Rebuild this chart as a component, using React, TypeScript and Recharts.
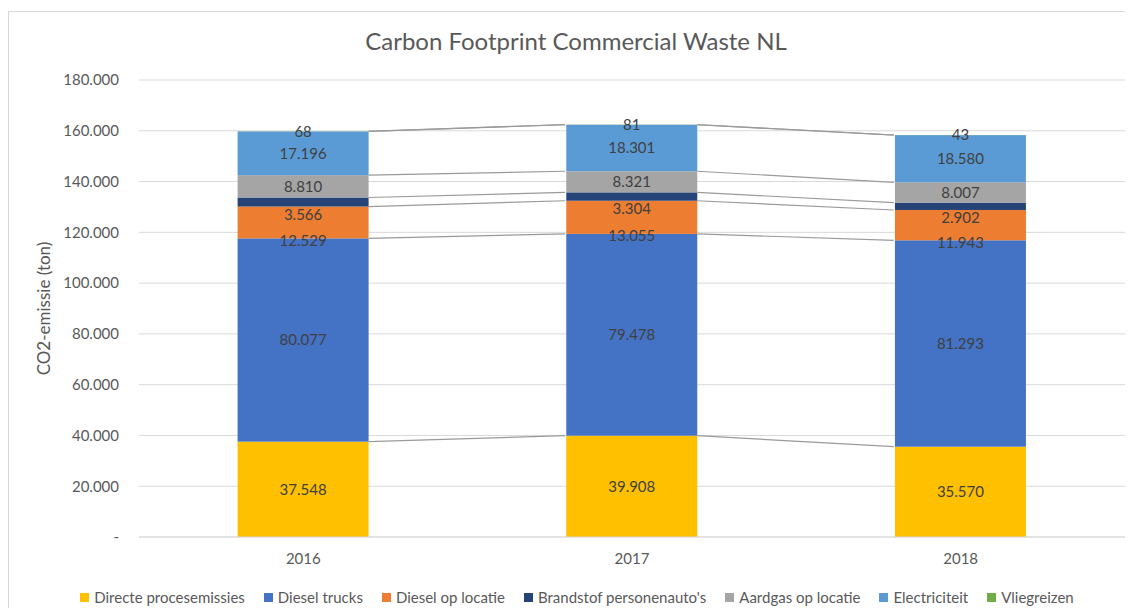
import React from 'react';
import { ComposedChart, Bar, XAxis, YAxis, CartesianGrid, LabelList, Legend } from 'recharts';

const years = ['2016', '2017', '2018'];
const directeProcesemissies = [37548, 39908, 35570];
const dieselTrucks = [80077, 79478, 81293];
const dieselOpLocatie = [12529, 13055, 11943];
const brandstofPersonenautos = [3566, 3304, 2902];
const aardgasOpLocatie = [8810, 8321, 8007];
const electriciteit = [17196, 18301, 18580];
const vliegreizen = [68, 81, 43];
const yTicks = [0, 20000, 40000, 60000, 80000, 100000, 120000, 140000, 160000, 180000];
const Y_MAX = 180000;

const seriesNames = [
  'Directe procesemissies',
  'Diesel trucks',
  'Diesel op locatie',
  "Brandstof personenauto's",
  'Aardgas op locatie',
  'Electriciteit',
  'Vliegreizen',
];
const seriesValues = [
  directeProcesemissies,
  dieselTrucks,
  dieselOpLocatie,
  brandstofPersonenautos,
  aardgasOpLocatie,
  electriciteit,
  vliegreizen,
];
const seriesKeys = ['directe', 'trucks', 'dieselLoc', 'brandstof', 'aardgas', 'elec', 'vlieg'];
const COLORS = ['#FFC000', '#4472C4', '#ED7D31', '#264478', '#A5A5A5', '#5B9BD5', '#70AD47'];
// where Excel put the labels: middle of the segment, on its base, or a bit under it
const LABEL_POS = ['mid', 'mid', 'base', 'under', 'mid', 'mid', 'mid'];
const GAP = 0.3;

const FONT = 'Lato, "Open Sans", sans-serif';
const TEXT = '#595959';
const LABEL_TEXT = '#404040';

const formatNumber = (v: number) => {
  if (v === 0) return '-';
  return String(Math.round(v)).replace(/\B(?=(\d{3})+(?!\d))/g, '.');
};

const chartData = years.map((year, i) => {
  const row: { [key: string]: string | number } = { year };
  let running = 0;
  seriesKeys.forEach((key, s) => {
    row[key] = seriesValues[s][i];
    running += seriesValues[s][i];
    row[`${key}Top`] = running;
  });
  return row;
});

// bar segment plus the Excel "series line" from its top right corner to the next bar
const makeShape = (s: number) => (props: any) => {
  const { x, y, width, height, fill, index, background } = props;
  const key = seriesKeys[s];
  const rect = <rect x={x} y={y} width={width} height={height} fill={fill} />;
  const next = chartData[index + 1];
  if (!next) return rect;
  let perUnit: number;
  let base: number;
  if (background && background.height) {
    perUnit = background.height / Y_MAX;
    base = background.y + background.height;
  } else {
    const top = Number(chartData[index][`${key}Top`]);
    perUnit = height / seriesValues[s][index];
    base = y + top * perUnit;
  }
  const nextTop = base - Number(next[`${key}Top`]) * perUnit;
  const band = width / (1 - 2 * GAP);
  return (
    <g>
      {rect}
      <line x1={x + width} y1={y} x2={x + band} y2={nextTop} stroke="#9a9a9a" strokeWidth={1.2} />
    </g>
  );
};

const makeLabel = (pos: string) => (props: any) => {
  const { x, y, width, height, value } = props;
  let cy = y + height / 2;
  if (pos === 'base') cy = y + height + 2;
  if (pos === 'under') cy = y + height + 8;
  return (
    <text
      x={x + width / 2}
      y={cy}
      dy="0.35em"
      textAnchor="middle"
      fill={LABEL_TEXT}
      fontSize={15}
      fontFamily={FONT}
    >
      {formatNumber(Number(value))}
    </text>
  );
};

const YLabel = (props: any) => {
  const { viewBox } = props;
  const cx = viewBox.x + 34;
  const cy = viewBox.y + viewBox.height / 2;
  return (
    <text
      x={cx}
      y={cy}
      transform={`rotate(-90, ${cx}, ${cy})`}
      textAnchor="middle"
      dominantBaseline="central"
      fill={TEXT}
      fontSize={17}
      fontFamily={FONT}
    >
      CO2-emissie (ton)
    </text>
  );
};

const renderLegend = () => (
  <div
    style={{
      display: 'flex',
      justifyContent: 'center',
      alignItems: 'center',
      gap: 19,
      height: 37,
      boxSizing: 'border-box',
      paddingTop: 15,
      paddingLeft: 20,
      lineHeight: '20px',
      fontFamily: FONT,
      fontSize: 15,
      color: TEXT,
      whiteSpace: 'nowrap',
    }}
  >
    {seriesNames.map((name, i) => (
      <span key={name} style={{ display: 'flex', alignItems: 'center' }}>
        <span style={{ width: 9, height: 9, background: COLORS[i], marginRight: 5, display: 'inline-block' }} />
        {name}
      </span>
    ))}
  </div>
);

export default function App() {
  return (
    <div
      style={{
        position: 'relative',
        marginTop: 3,
        marginRight: -8,
        borderTop: '1px solid #d9d9d9',
        borderLeft: '1px solid #d9d9d9',
        background: '#fff',
      }}
    >
      <div
        style={{
          position: 'absolute',
          top: 16,
          left: 0,
          right: 0,
          paddingLeft: 10,
          textAlign: 'center',
          fontFamily: FONT,
          fontSize: 24,
          lineHeight: '26px',
          color: TEXT,
        }}
      >
        Carbon Footprint Commercial Waste NL
      </div>
      <ComposedChart
        width={1116}
        height={596}
        data={chartData}
        margin={{ top: 68, right: 0, left: 0, bottom: 0 }}
        barCategoryGap={`${GAP * 100}%`}
      >
        <CartesianGrid vertical={false} stroke="#d9d9d9" />
        <XAxis
          dataKey="year"
          height={34}
          tickSize={0}
          tickMargin={16}
          axisLine={{ stroke: '#d9d9d9' }}
          tick={{ fill: TEXT, fontSize: 15, fontFamily: FONT }}
        />
        <YAxis
          width={130}
          domain={[0, Y_MAX]}
          ticks={yTicks}
          interval={0}
          tickFormatter={formatNumber}
          tickSize={0}
          tickMargin={20}
          axisLine={false}
          tickLine={false}
          tick={{ fill: TEXT, fontSize: 15, fontFamily: FONT }}
          label={<YLabel />}
        />
        <Legend verticalAlign="bottom" height={37} content={renderLegend} />
        {seriesKeys.map((key, i) => (
          <Bar
            key={key}
            dataKey={key}
            name={seriesNames[i]}
            stackId="co2"
            fill={COLORS[i]}
            shape={makeShape(i)}
            isAnimationActive={false}
          >
            <LabelList dataKey={key} content={makeLabel(LABEL_POS[i])} />
          </Bar>
        ))}
      </ComposedChart>
    </div>
  );
}
